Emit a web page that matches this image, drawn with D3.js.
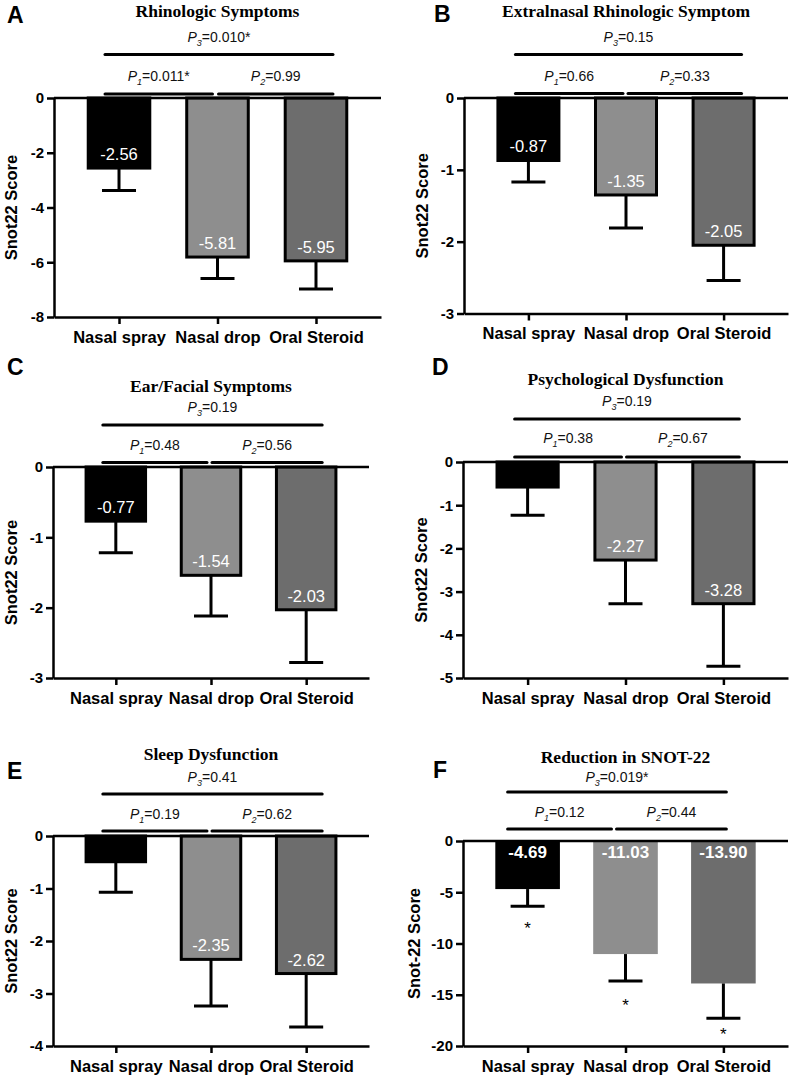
<!DOCTYPE html>
<html><head><meta charset="utf-8">
<script src="https://cdn.jsdelivr.net/npm/d3@7"></script>
<style>
html,body{margin:0;padding:0;background:#fff;}
svg{display:block;}
</style></head>
<body>
<svg id="chart" width="790" height="1076"></svg>
<script>
// ---------- DATA ----------
const categories = ["Nasal spray", "Nasal drop", "Oral Steroid"];
const panelLetters = ["A", "B", "C", "D", "E", "F"];
const titles = ["Rhinologic Symptoms", "Extralnasal Rhinologic Symptom", "Ear/Facial Symptoms",
                "Psychological Dysfunction", "Sleep Dysfunction", "Reduction in SNOT-22"];
const yTitles = ["Snot22 Score", "Snot22 Score", "Snot22 Score", "Snot22 Score", "Snot22 Score", "Snot-22 Score"];

const meansA = [-2.56, -5.81, -5.95];
const meansB = [-0.87, -1.35, -2.05];
const meansC = [-0.77, -1.54, -2.03];
const meansD = [-0.58, -2.27, -3.28];
const meansE = [-0.49, -2.35, -2.62];
const meansF = [-4.69, -11.03, -13.90];

const errA = [0.82, 0.78, 1.03];
const errB = [0.30, 0.46, 0.49];
const errC = [0.45, 0.58, 0.75];
const errD = [0.65, 1.01, 1.45];
const errE = [0.58, 0.89, 1.02];
const errF = [1.68, 2.63, 3.40];

const labelsA = ["-2.56", "-5.81", "-5.95"];
const labelsB = ["-0.87", "-1.35", "-2.05"];
const labelsC = ["-0.77", "-1.54", "-2.03"];
const labelsD = [null, "-2.27", "-3.28"];
const labelsE = [null, "-2.35", "-2.62"];
const labelsF = ["-4.69", "-11.03", "-13.90"];

const yTicksA = [0, -2, -4, -6, -8];
const yTicksB = [0, -1, -2, -3];
const yTicksC = [0, -1, -2, -3];
const yTicksD = [0, -1, -2, -3, -4, -5];
const yTicksE = [0, -1, -2, -3, -4];
const yTicksF = [0, -5, -10, -15, -20];

const p1Values = ["0.011*", "0.66", "0.48", "0.38", "0.19", "0.12"];
const p2Values = ["0.99", "0.33", "0.56", "0.67", "0.62", "0.44"];
const p3Values = ["0.010*", "0.15", "0.19", "0.19", "0.41", "0.019*"];

const starsF = [-8.3, -15.8, -18.6];   // positions of significance asterisks in F

const barColors = ["#000000", "#8e8e8e", "#6d6d6d"];

// ---------- LAYOUT (positions only) ----------
const layouts = [
  {left:54,  right:381, zero:98,  bottom:317, letterX:7,   letterY:23,  titleY:17,  p3Y:42,  p3L:54.5, p1Y:81,  p1L:94,  yLabX:17,  boldLabels:false, stroke:true},
  {left:464, right:788, zero:98,  bottom:313.5, letterX:434, letterY:22, titleY:17,  p3Y:42,  p3L:54.5, p1Y:81,  p1L:93.5, yLabX:428, boldLabels:false, stroke:true},
  {left:53,  right:369, zero:467, bottom:678, letterX:7,   letterY:375, titleY:392, p3Y:412, p3L:425, p1Y:450, p1L:462.5, yLabX:17, boldLabels:false, stroke:true},
  {left:463, right:788, zero:462, bottom:678, letterX:432, letterY:375, titleY:385, p3Y:406, p3L:419, p1Y:443, p1L:457, yLabX:427, boldLabels:false, stroke:true},
  {left:53,  right:369, zero:836, bottom:1046, letterX:7,  letterY:779, titleY:760, p3Y:782, p3L:794, p1Y:819, p1L:831, yLabX:17,  boldLabels:false, stroke:true},
  {left:463, right:788, zero:841, bottom:1046, letterX:433, letterY:778, titleY:763, p3Y:782, p3L:792, p1Y:817, p1L:829, yLabX:420, boldLabels:true, stroke:false}
];
const meansAll = [meansA, meansB, meansC, meansD, meansE, meansF];
const errAll = [errA, errB, errC, errD, errE, errF];
const labelsAll = [labelsA, labelsB, labelsC, labelsD, labelsE, labelsF];
const ticksAll = [yTicksA, yTicksB, yTicksC, yTicksD, yTicksE, yTicksF];
// bracket offsets relative to bar centres: [p1 start, p1 end, p2 start, p2 end]
const bracketOff = [
  [-14,-5,1,17],[-13,-3,2,18],[-13,-4,1,16],[-13,-4,1,16],[-13,-4,1,16],[-20,-14,-9,3]
];

const svg = d3.select("#chart");
const SANS = "Arial, 'Liberation Sans', Helvetica, sans-serif";
const SERIF = "'Times New Roman', 'Liberation Serif', serif";

function pText(g, x, y, sub, val) {
  const t = g.append("text").attr("x", x).attr("y", y).attr("text-anchor", "middle")
    .attr("font-family", SANS).attr("font-size", 14).attr("fill", "#111");
  t.append("tspan").attr("font-style", "italic").text("P");
  t.append("tspan").attr("font-style", "italic").attr("font-size", 9).attr("dy", 4).text(sub);
  t.append("tspan").attr("dy", -4).text("=" + val);
}

layouts.forEach((L, i) => {
  const g = svg.append("g");
  const means = meansAll[i], errs = errAll[i], labels = labelsAll[i], ticks = ticksAll[i];
  const yMin = d3.min(ticks);
  const x = d3.scalePoint().domain(categories).range([L.left, L.right]).padding(0.66);
  const y = d3.scaleLinear().domain([0, yMin]).range([L.zero, L.bottom]);
  const step = x.step();
  const bw = L.stroke ? step * 0.625 : step * 0.66;

  // panel letter
  g.append("text").attr("x", L.letterX).attr("y", L.letterY)
    .attr("font-family", SANS).attr("font-weight", "bold").attr("font-size", 23).text(panelLetters[i]);
  // title
  const cMid = x(categories[1]);
  g.append("text").attr("x", cMid).attr("y", L.titleY).attr("text-anchor", "middle")
    .attr("font-family", SERIF).attr("font-weight", "bold").attr("font-size", 17.5).text(titles[i]);

  // brackets
  const c1 = x(categories[0]), c2 = x(categories[1]), c3 = x(categories[2]);
  const o = bracketOff[i];
  const segs = [
    [c1 + o[0], c3 + o[3], L.p3L, L.p3Y, "3", p3Values[i]],
    [c1 + o[0], c2 + o[1], L.p1L, L.p1Y, "1", p1Values[i]],
    [c2 + o[2], c3 + o[3], L.p1L, L.p1Y, "2", p2Values[i]]
  ];
  segs.forEach(s => {
    g.append("line").attr("x1", s[0]).attr("x2", s[1]).attr("y1", s[2]).attr("y2", s[2])
      .attr("stroke", "#000").attr("stroke-width", 3).attr("stroke-linecap", "round");
    pText(g, (s[0] + s[1]) / 2, s[3], s[4], s[5]);
  });

  // bars
  g.selectAll("rect.bar").data(means).enter().append("rect").attr("class", "bar")
    .attr("x", (d, j) => x(categories[j]) - bw / 2)
    .attr("y", y(0))
    .attr("width", bw)
    .attr("height", d => y(d) - y(0))
    .attr("fill", (d, j) => barColors[j])
    .attr("stroke", L.stroke ? "#000" : "none")
    .attr("stroke-width", 3);

  // error bars
  means.forEach((m, j) => {
    const cx = x(categories[j]);
    const yEnd = y(m - errs[j]);
    g.append("line").attr("x1", cx).attr("x2", cx).attr("y1", y(m)).attr("y2", yEnd)
      .attr("stroke", "#000").attr("stroke-width", 3);
    g.append("line").attr("x1", cx - 17).attr("x2", cx + 17).attr("y1", yEnd).attr("y2", yEnd)
      .attr("stroke", "#000").attr("stroke-width", 3);
  });

  // value labels
  means.forEach((m, j) => {
    if (!labels[j]) return;
    const cx = x(categories[j]);
    g.append("text").attr("x", cx).attr("y", L.boldLabels ? y(0) + 17 : y(m) - 8)
      .attr("text-anchor", "middle").attr("fill", "#fff")
      .attr("font-family", SANS).attr("font-size", L.boldLabels ? 17 : 16.5)
      .attr("font-weight", L.boldLabels ? "bold" : "normal").text(labels[j]);
  });

  // asterisks (panel F)
  if (i === 5) {
    starsF.forEach((s, j) => {
      g.append("text").attr("x", x(categories[j])).attr("y", y(s) + 8)
        .attr("text-anchor", "middle").attr("font-family", SANS).attr("font-size", 17)
        .attr("fill", "#000").text("*");
    });
  }

  // zero line
  g.append("line").attr("x1", L.left).attr("x2", L.right).attr("y1", y(0)).attr("y2", y(0))
    .attr("stroke", "#000").attr("stroke-width", 2.5);

  // y axis
  const ya = g.append("g").attr("transform", `translate(${L.left},0)`)
    .call(d3.axisLeft(y).tickValues(ticks).tickSize(7).tickSizeOuter(0).tickPadding(3)
      .tickFormat(d => d === 0 ? "0" : String(d).replace("\u2212", "-")));
  // x axis
  const xa = g.append("g").attr("transform", `translate(0,${L.bottom})`)
    .call(d3.axisBottom(x).tickSize(7).tickSizeOuter(0).tickPadding(7));
  [ya, xa].forEach(a => {
    a.select(".domain").attr("stroke", "#000").attr("stroke-width", 2.5);
    a.selectAll(".tick line").attr("stroke", "#000").attr("stroke-width", 2.5);
    a.selectAll(".tick text").attr("fill", "#000").attr("font-family", SANS)
      .attr("font-weight", "bold");
  });
  ya.selectAll(".tick text").attr("font-size", 15);
  xa.selectAll(".tick text").attr("font-size", 16.5);

  // y title
  g.append("text").attr("transform", `translate(${L.yLabX},${(L.zero + L.bottom) / 2}) rotate(-90)`)
    .attr("text-anchor", "middle").attr("font-family", SANS).attr("font-weight", "bold")
    .attr("font-size", 16.5).text(yTitles[i]);
});
</script>
</body></html>
